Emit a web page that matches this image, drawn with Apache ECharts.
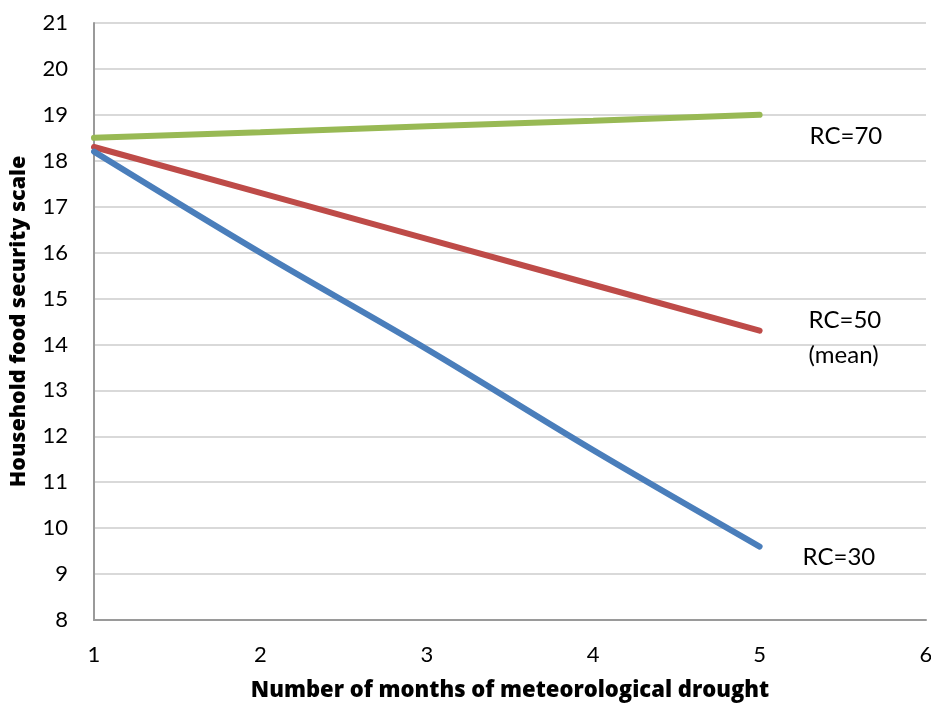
<!DOCTYPE html>
<html>
<head>
<meta charset="utf-8">
<script src="https://cdn.jsdelivr.net/npm/echarts@6/dist/echarts.min.js"></script>
<style>html,body{margin:0;padding:0;background:#fff;}#c{width:931px;height:704px;}</style>
</head>
<body>
<div id="c"></div>
<script>
var months = [1, 2, 3, 4, 5];
var rc30 = [18.2, 16.0, 13.9, 11.7, 9.6];
var rc50 = [18.3, 17.3, 16.3, 15.3, 14.3];
var rc70 = [18.5, 18.62, 18.75, 18.87, 19.0];
var seriesNames = ['RC=30', 'RC=50\n(mean)', 'RC=70'];
var colors = ['#4a7ebb', '#be4b48', '#98b954'];
var labelOffsets = [[35, 11], [41, 7], [42, 21]];

var font = 'Lato, "Open Sans", sans-serif';
var boldFont = '"Open Sans", Lato, sans-serif';
var allSeries = [rc30, rc50, rc70].map(function (vals, idx) {
  return {
    type: 'line', name: seriesNames[idx],
    data: vals.map(function (v, i) { return [months[i], v]; }),
    smooth: idx === 0 ? 0.35 : false, showSymbol: false, symbol: 'none',
    lineStyle: { color: colors[idx], width: 6, cap: 'round' },
    itemStyle: { color: colors[idx] }, z: 3 - idx,
    endLabel: {
      show: true, formatter: seriesNames[idx], offset: labelOffsets[idx],
      color: '#000', fontSize: 24, fontFamily: font, lineHeight: 35, align: 'left'
    }
  };
});
var chart = echarts.init(document.getElementById('c'));
chart.setOption({
  animation: false,
  grid: { left: 94, right: 5, top: 23, bottom: 84, outerBoundsMode: 'none', containLabel: false },
  xAxis: {
    type: 'value', min: 1, max: 6, interval: 1,
    name: 'Number of months of meteorological drought', nameLocation: 'middle', nameGap: 60,
    nameTextStyle: { fontSize: 22, fontWeight: 800, color: '#000', fontFamily: boldFont },
    axisLine: { lineStyle: { color: '#9a9a9a', width: 2 } },
    axisTick: { show: false },
    axisLabel: { fontSize: 22, color: '#000', fontFamily: font, margin: 24 },
    splitLine: { show: false }
  },
  yAxis: {
    type: 'value', min: 8, max: 21, interval: 1,
    name: 'Household food security scale', nameLocation: 'middle', nameGap: 64,
    nameTextStyle: { fontSize: 21.5, fontWeight: 800, color: '#000', fontFamily: boldFont },
    axisLine: { show: true, lineStyle: { color: '#9a9a9a', width: 2 } },
    axisTick: { show: false },
    axisLabel: { fontSize: 22, color: '#000', fontFamily: font, margin: 26 },
    splitLine: { show: true, lineStyle: { color: '#d9d9d9', width: 2 } }
  },
  series: allSeries
});
</script>
</body>
</html>
